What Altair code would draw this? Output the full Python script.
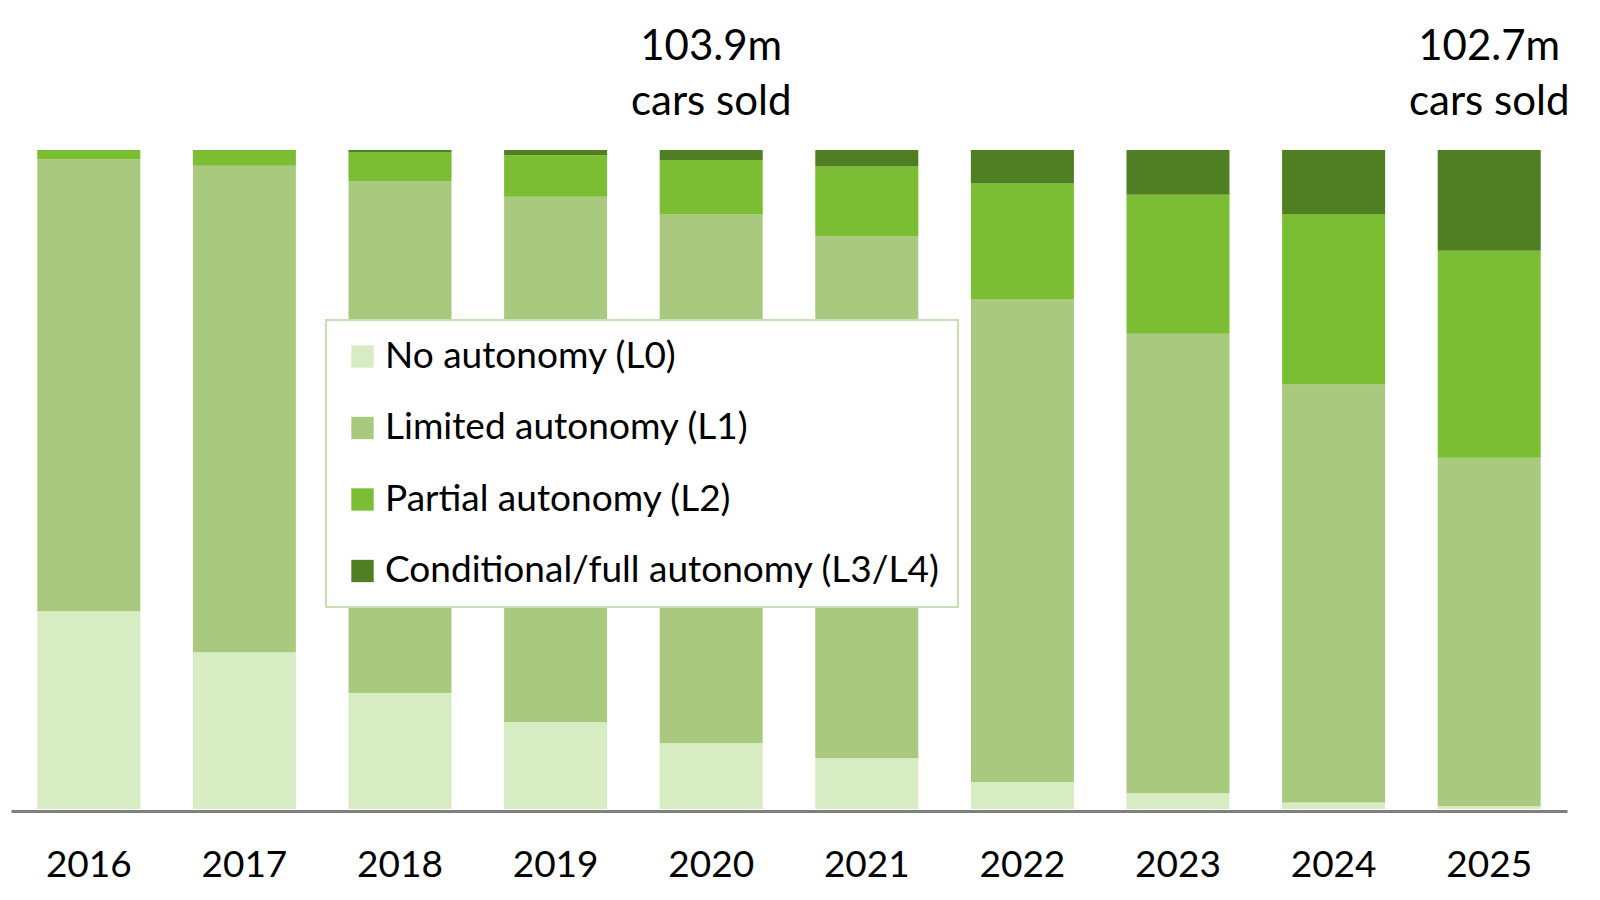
import altair as alt
import pandas as pd

# ---- data (shares of cars sold, %) ----
years = ["2016", "2017", "2018", "2019", "2020", "2021", "2022", "2023", "2024", "2025"]
levels = [
    "No autonomy (L0)",
    "Limited autonomy (L1)",
    "Partial autonomy (L2)",
    "Conditional/full autonomy (L3/L4)",
]
l0_share = [30.0, 23.8, 17.6, 13.2, 10.0, 7.7, 4.1, 2.4, 1.0, 0.4]
l1_share = [68.6, 73.8, 77.7, 79.7, 80.2, 79.2, 73.3, 69.7, 63.4, 52.9]
l2_share = [1.4, 2.4, 4.4, 6.3, 8.3, 10.6, 17.5, 21.1, 25.9, 31.4]
l3_share = [0.0, 0.0, 0.3, 0.8, 1.5, 2.5, 5.1, 6.8, 9.7, 15.3]
colors = ["#d7ecc3", "#a9ca7e", "#7bbd33", "#4f7e23"]

annot_years = ["2020", "2025"]
annot_totals = ["103.9m", "102.7m"]
annot_sub = ["cars sold", "cars sold"]

FONT = "Lato"

rows = []
for i, y in enumerate(years):
    for k, (lvl, series) in enumerate(zip(levels, [l0_share, l1_share, l2_share, l3_share])):
        rows.append({"year": y, "level": lvl, "idx": k, "share": series[i]})
df = pd.DataFrame(rows)
ann = pd.DataFrame({"year": annot_years, "total": annot_totals, "sub": annot_sub})

x_enc = alt.X(
    "year:N",
    sort=years,
    scale=alt.Scale(paddingInner=0.338, paddingOuter=0.169),
    axis=alt.Axis(
        title=None,
        ticks=False,
        domainColor="#7f7f7f",
        domainWidth=3,
        offset=2,
        labelFont=FONT,
        labelFontSize=37,
        labelColor="#000000",
        labelPadding=36,
        labelAngle=0,
    ),
)

bars = (
    alt.Chart(df)
    .mark_bar()
    .encode(
        x=x_enc,
        y=alt.Y("share:Q", stack="normalize", axis=None, scale=alt.Scale(domain=[0, 1])),
        color=alt.Color(
            "level:N",
            scale=alt.Scale(domain=levels, range=colors),
            legend=alt.Legend(
                title=None,
                orient="none",
                legendX=315,
                legendY=170,
                padding=18,
                symbolType="square",
                symbolSize=500,
                symbolOffset=0,
                symbolStrokeWidth=0,
                labelFont=FONT,
                labelFontSize=37,
                labelColor="#000000",
                labelOffset=4,
                labelLimit=0,
                rowPadding=33.5,
                fillColor="#ffffff",
                strokeColor="#c5e0b2",
            ),
        ),
        order=alt.Order("idx:Q", sort="ascending"),
    )
)

tot_text = (
    alt.Chart(ann)
    .mark_text(font=FONT, fontSize=42, color="#000000", baseline="middle", align="center")
    .encode(x=alt.X("year:N", sort=years), y=alt.value(-103), text="total:N")
)
sub_text = (
    alt.Chart(ann)
    .mark_text(font=FONT, fontSize=42, color="#000000", baseline="middle", align="center")
    .encode(x=alt.X("year:N", sort=years), y=alt.value(-48), text="sub:N")
)

chart = (
    alt.layer(bars, tot_text, sub_text)
    .properties(
        width=1556,
        height=659,
        autosize=alt.AutoSizeParams(type="none"),
        padding={"left": 3, "top": 142, "right": 20, "bottom": 78},
        background="#ffffff",
    )
    .configure_view(stroke=None)
    .configure_legend(strokeWidth=2)
)

chart.save("out.html", embed_options={"renderer": "svg", "actions": False})
